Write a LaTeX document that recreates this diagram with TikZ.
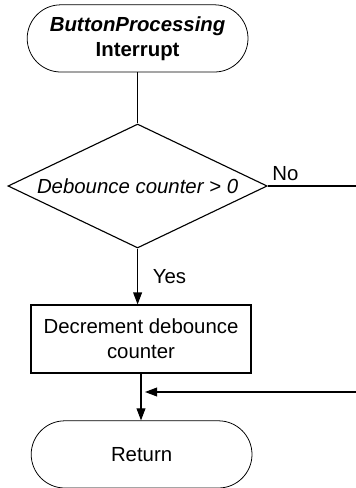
\documentclass[tikz,border=0pt]{standalone}
\usepackage{fontspec}
\setmainfont{Liberation Sans}
\usetikzlibrary{shapes.geometric, arrows.meta, positioning}

\begin{document}
\begin{tikzpicture}[font=\fontsize{14.5}{18}\selectfont, line width=0.8pt,
    term/.style={draw, line width=0.55pt, rounded corners=0.84cm, minimum width=5.52cm, minimum height=1.68cm, align=center},
    decide/.style={draw, diamond, aspect=2.09, inner sep=0pt, minimum width=6.48cm, minimum height=3.1cm},
    proc/.style={draw, minimum width=5.5cm, minimum height=1.7cm, align=center},
    flow/.style={-{Triangle[length=0.3cm, width=0.22cm]}}]
    \useasboundingbox (0,0) rectangle (8.9,-12.2);
    \node[term] (start) at (3.44,-0.96) {\bfseries\itshape ButtonProcessing\\\bfseries Interrupt};
    \node[decide] (check) at (3.44,-4.65) {\itshape Debounce counter > 0};
    \node[proc] (decr) at (3.525,-8.475) {Decrement debounce\\counter};
    \node[term] (ret) at (3.54,-11.36) {Return};
    \coordinate (noend) at (8.9,-4.65);
    \coordinate (backin) at (8.9,-9.8);
    \draw (start.south -| check.north) -- (check.north);
    \draw (check.east) -- node[above, pos=0.2] {No} (noend);
    \draw[flow] (check.south) -- node[right=0.25cm] {Yes} (decr.north -| check.south);
    \draw[flow] (decr.south) -- (ret.north -| decr.south);
    \draw[flow] (backin) -- ([xshift=0.1cm]backin -| decr.south);
\end{tikzpicture}
\end{document}
